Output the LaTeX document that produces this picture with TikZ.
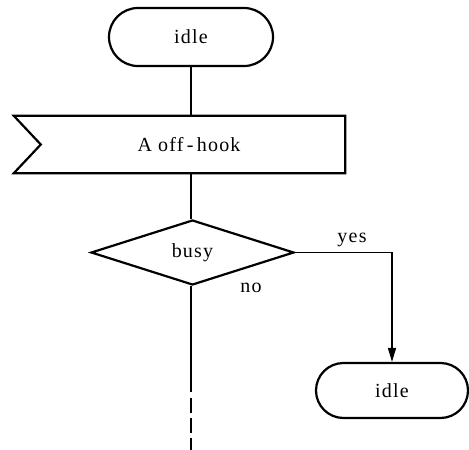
\documentclass[tikz,border=0pt]{standalone}
\usepackage{fontspec}
\setmainfont{Liberation Serif}[LetterSpace=6]
\usetikzlibrary{shapes.misc,shapes.geometric,arrows.meta}
\begin{document}
\begin{tikzpicture}[x=1pt,y=-1pt,
  every node/.style={font=\fontsize{20}{24}\selectfont},
  shapeline/.style={draw, line width=2.2pt, line join=miter},
  terminal/.style={shapeline, rounded rectangle, inner sep=0pt},
  decision/.style={shapeline, diamond, inner sep=0pt},
  conn/.style={line width=1.8pt},
  lbl/.style={inner sep=1pt}
]
\useasboundingbox (0,0) rectangle (469,450);

% start state
\node[terminal, minimum width=164pt, minimum height=58pt] (idle1) at (191,37) {idle};

% input signal (notched banner)
\node[minimum width=304pt, minimum height=57pt, inner sep=0pt] (banner) at (193,144.5) {\hspace{-8pt}A off\,-\,hook};
\draw[shapeline] ([xshift=-27pt]banner.north west) -- (banner.north east)
  -- (banner.south east) -- ([xshift=-27pt]banner.south west)
  -- (banner.west) -- cycle;

% decision
\node[decision, minimum width=203pt, minimum height=65pt] (busy) at (192.5,252.5) {busy};

% next state
\node[terminal, minimum width=152pt, minimum height=55pt] (idle2) at (392,390.5) {idle};

% connectors
\coordinate (bannerTop) at (banner.north -| idle1.south);
\coordinate (bannerBot) at (banner.south -| idle1.south);
\draw[conn] (idle1.south) -- (bannerTop);
\draw[conn] (bannerBot) -- (busy.north -| idle1.south);
\draw[conn, line width=1.5pt, -{Triangle[length=14pt,width=8pt]}] (busy.east) -| (idle2.north);

\coordinate (solidEnd) at (191,392);
\coordinate (dashStart) at (191,398);
\coordinate (flowEnd) at (191,450);
\draw[conn] (busy.south -| solidEnd) -- (solidEnd);
\draw[conn, dash pattern=on 15pt off 5pt] (dashStart) -- (flowEnd);

% branch labels
\node[lbl] (yes) at (352,240) {yes};
\node[lbl] (no) at (251,288) {no};
\end{tikzpicture}
\end{document}
